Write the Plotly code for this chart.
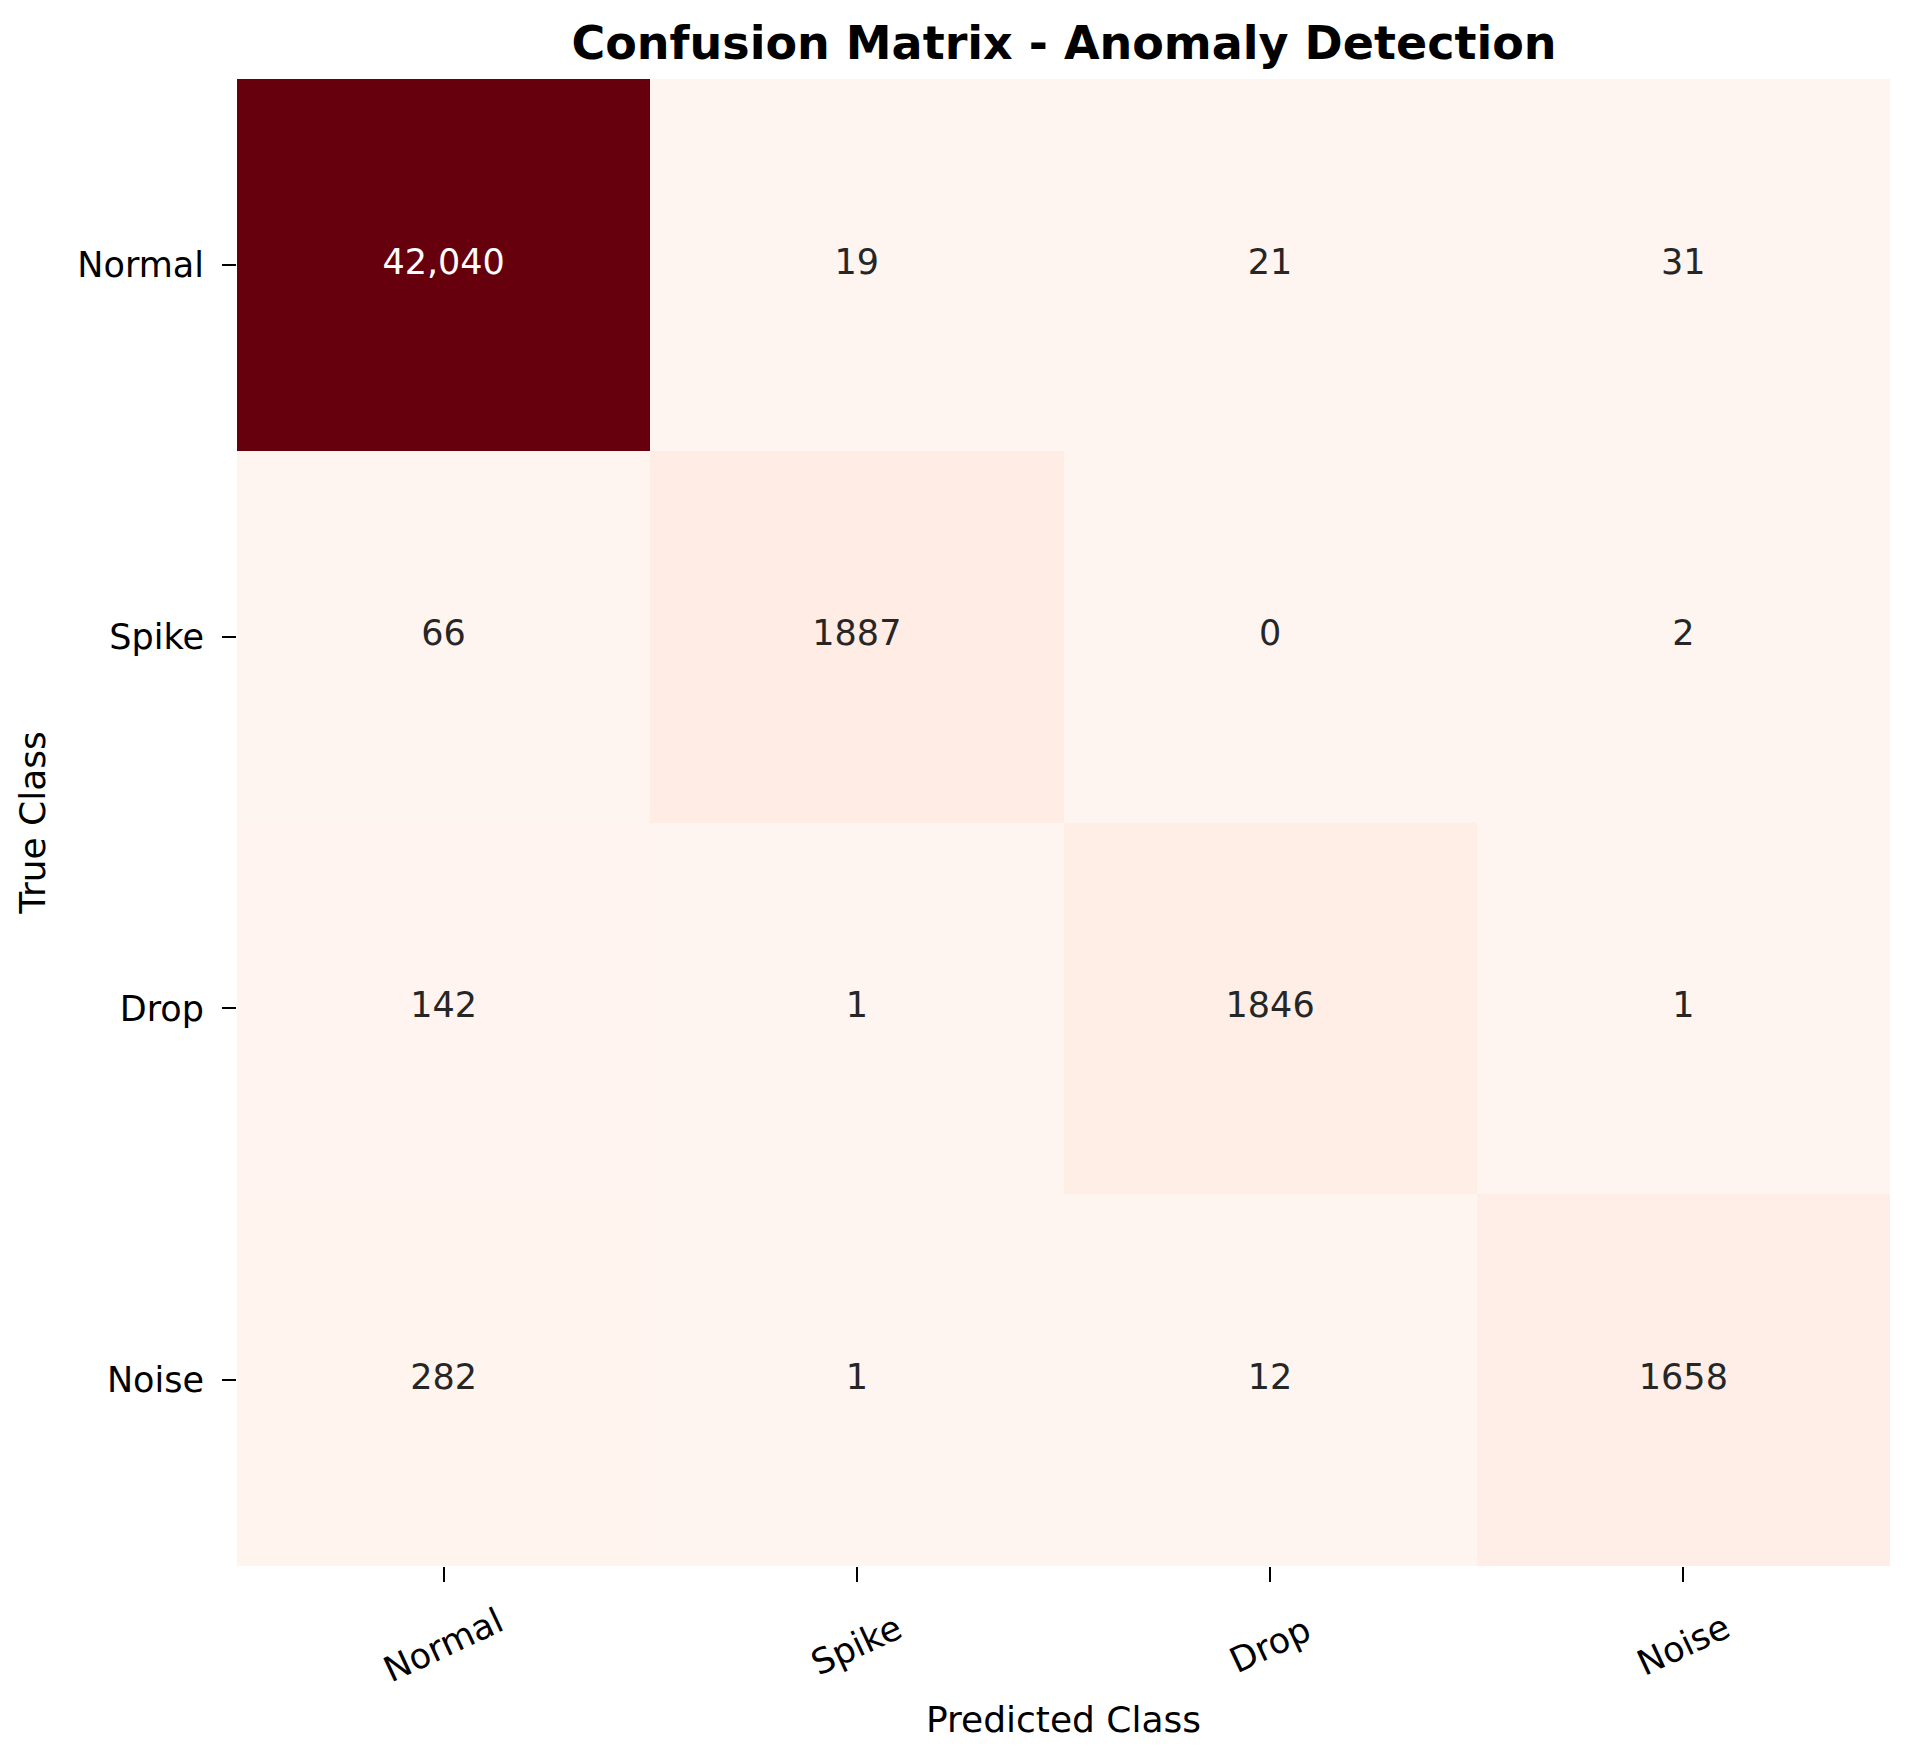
import plotly.graph_objects as go

pred_classes = ["Normal", "Spike", "Drop", "Noise"]
true_classes = ["Normal", "Spike", "Drop", "Noise"]
counts = [
    [42040, 19, 21, 31],
    [66, 1887, 0, 2],
    [142, 1, 1846, 1],
    [282, 1, 12, 1658],
]

reds = ["rgb(255,245,240)", "rgb(254,224,210)", "rgb(252,187,161)", "rgb(252,146,114)",
        "rgb(251,106,74)", "rgb(239,59,44)", "rgb(203,24,29)", "rgb(165,15,21)", "rgb(103,0,13)"]
colorscale = [[i / (len(reds) - 1), c] for i, c in enumerate(reds)]

FONT = "DejaVu Sans"
vmax = max(max(r) for r in counts)

W, H = 1905, 1754

fig = go.Figure()
fig.add_trace(go.Heatmap(
    z=counts, x=pred_classes, y=true_classes,
    colorscale=colorscale, zmin=0, zmax=vmax, showscale=False,
    hoverinfo="skip",
))

tx, ty, tt, tc = [], [], [], []
for i, row in enumerate(counts):
    for j, v in enumerate(row):
        tx.append(pred_classes[j])
        ty.append(true_classes[i])
        tt.append(f"{v:,}" if v >= 10000 else str(v))
        tc.append("#ffffff" if v / vmax > 0.5 else "#262626")

fig.add_trace(go.Scatter(
    x=tx, y=ty, text=tt, mode="text",
    textfont=dict(family=FONT, size=35, color=tc),
    hoverinfo="skip", showlegend=False,
))

# rotated x tick labels, centred on their ticks
for c in pred_classes:
    fig.add_annotation(
        x=c, xref="x", y=0, yref="paper", yshift=-79,
        text=c, textangle=-25, showarrow=False,
        xanchor="center", yanchor="middle",
        font=dict(family=FONT, size=35, color="black"),
    )

fig.update_layout(
    width=W, height=H,
    margin=dict(l=229, r=23, t=71, b=196),
    paper_bgcolor="white", plot_bgcolor="white",
    title=dict(text="Confusion Matrix - Anomaly Detection",
               font=dict(family=FONT, size=46, color="black", weight="bold"),
               x=(1064 - 8) / W, xanchor="center", xref="container",
               y=1 - 35 / H, yanchor="middle", yref="container"),
    showlegend=False,
)
fig.update_xaxes(
    type="category", showgrid=False, zeroline=False, showline=False,
    ticks="outside", ticklen=15, tickwidth=2, tickcolor="black",
    showticklabels=False,
    title=dict(text="Predicted Class", font=dict(family=FONT, size=36, color="black"), standoff=125),
)
fig.update_yaxes(
    type="category", autorange="reversed", showgrid=False, zeroline=False, showline=False,
    ticks="outside", ticklen=14, tickwidth=2, tickcolor="black",
    ticklabelstandoff=11,
    tickfont=dict(family=FONT, size=35, color="black"),
    title=dict(text="True Class", font=dict(family=FONT, size=36, color="black"), standoff=20),
)

fig.write_html("out.html")
